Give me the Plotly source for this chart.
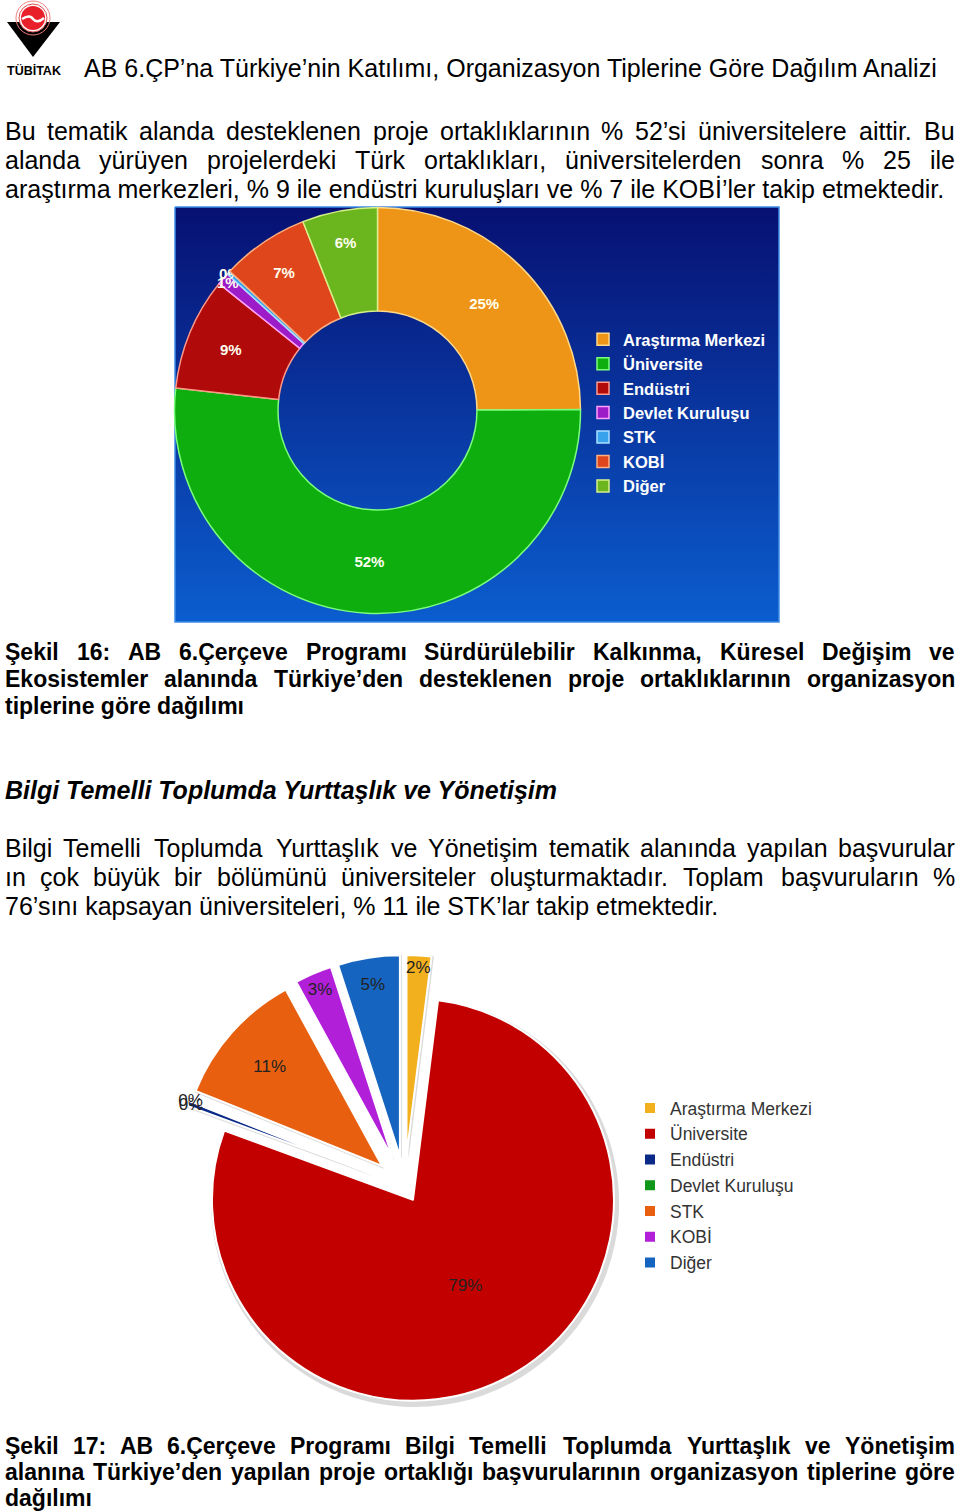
import unicodedata
import plotly.graph_objects as go

# ---------------- data ----------------
categories = ["Araştırma Merkezi", "Üniversite", "Endüstri", "Devlet Kuruluşu", "STK", "KOBİ", "Diğer"]

# Figure 16 (donut): shares in %
fig16_values = [25, 52, 9, 1, 0.3, 7, 6]
fig16_colors = ["#EE9416", "#0DAE0D", "#B00A0A", "#9C1CC8", "#38A2EC", "#E0461C", "#6BB51E"]
fig16_edges = ["#FFD98A", "#7CFF7C", "#FF9A8A", "#FFA0FF", "#A8E0FF", "#FFB080", "#D8F08A"]

# Figure 17 (exploded pie): shares in %
fig17_values = [2, 79, 0.4, 0.1, 11, 3, 5]
fig17_colors = ["#F2B01E", "#C20000", "#0B2A88", "#109618", "#E8600F", "#B11FD9", "#1565C0"]
fig17_pull = [0.15, 0.08, 0.15, 0.15, 0.15, 0.15, 0.15]

FONT = "Liberation Sans, Arial, sans-serif"
W, H = 960, 1512

title_text = "AB 6.ÇP’na Türkiye’nin Katılımı, Organizasyon Tiplerine Göre Dağılım Analizi"
para1 = [
    "Bu tematik alanda desteklenen proje ortaklıklarının % 52’si üniversitelere aittir.  Bu",
    "alanda yürüyen projelerdeki Türk ortaklıkları, üniversitelerden sonra % 25 ile",
    "araştırma merkezleri, % 9 ile endüstri kuruluşları ve % 7 ile KOBİ’ler takip etmektedir.",
]
caption16 = [
    "Şekil 16: AB 6.Çerçeve Programı Sürdürülebilir Kalkınma, Küresel Değişim ve",
    "Ekosistemler alanında Türkiye’den desteklenen proje ortaklıklarının organizasyon",
    "tiplerine göre dağılımı",
]
heading2 = "Bilgi Temelli Toplumda Yurttaşlık ve Yönetişim"
para2 = [
    "Bilgi Temelli Toplumda Yurttaşlık ve Yönetişim  tematik alanında yapılan başvurular",
    "ın çok büyük bir bölümünü üniversiteler oluşturmaktadır. Toplam başvuruların %",
    "76’sını kapsayan üniversiteleri, % 11 ile STK’lar takip etmektedir.",
]
caption17 = [
    "Şekil 17: AB 6.Çerçeve Programı Bilgi Temelli Toplumda Yurttaşlık ve Yönetişim",
    "alanına Türkiye’den yapılan proje ortaklığı başvurularının organizasyon tiplerine göre",
    "dağılımı",
]

# ---------- Arial / Liberation Sans advance widths (per 1000 em) for justification ----------
_up_r = dict(zip("ABCDEFGHIJKLMNOPQRSTUVWXYZ",
                 [667, 667, 722, 722, 667, 611, 778, 722, 278, 500, 667, 556, 833, 722, 778, 667, 778, 722,
                  667, 611, 722, 667, 944, 667, 667, 611]))
_lo_r = dict(zip("abcdefghijklmnopqrstuvwxyz",
                 [556, 556, 500, 556, 556, 278, 556, 556, 222, 222, 500, 222, 833, 556, 556, 556, 556, 333,
                  500, 278, 556, 500, 722, 500, 500, 500]))
_up_b = dict(zip("ABCDEFGHIJKLMNOPQRSTUVWXYZ",
                 [722, 722, 722, 722, 667, 611, 778, 722, 278, 556, 722, 611, 833, 722, 778, 667, 778, 722,
                  667, 611, 722, 667, 944, 667, 667, 611]))
_lo_b = dict(zip("abcdefghijklmnopqrstuvwxyz",
                 [556, 611, 556, 611, 556, 333, 611, 611, 278, 278, 556, 278, 889, 611, 611, 611, 611, 389,
                  556, 333, 611, 556, 778, 556, 556, 500]))
_punct_r = {" ": 278, "%": 889, "’": 222, ",": 278, ".": 278, ":": 278, "ı": 278}
_punct_b = {" ": 278, "%": 889, "’": 278, ",": 278, ".": 278, ":": 333, "ı": 278}


def text_width(s, size, bold):
    up, lo, pu = (_up_b, _lo_b, _punct_b) if bold else (_up_r, _lo_r, _punct_r)
    total = 0
    for ch in s:
        if ch in pu:
            total += pu[ch]
            continue
        base = unicodedata.normalize("NFD", ch)[0]
        if base.isdigit():
            total += 556
        elif base in up:
            total += up[base]
        elif base in lo:
            total += lo[base]
        else:
            total += 556
    return total / 1000 * size


fig = go.Figure()

# gradient background panel of figure 16
fig.add_trace(go.Scatter(
    x=[175, 779, 779, 175, 175], y=[207, 207, 622, 622, 207],
    mode="lines", line=dict(color="#3E8CE8", width=1.5),
    fill="toself",
    fillgradient=dict(type="vertical", colorscale=[[0, "#071072"], [1, "#0B5DCF"]], start=207, stop=622),
    hoverinfo="skip", showlegend=False,
))


def px_domain(cx, cy, half):
    return dict(x=[(cx - half) / W, (cx + half) / W], y=[1 - (cy + half) / H, 1 - (cy - half) / H])


fig.add_trace(go.Pie(
    labels=categories, values=fig16_values, sort=False, direction="clockwise", rotation=0,
    hole=0.49, domain=px_domain(377.5, 410.5, 203),
    marker=dict(colors=fig16_colors, line=dict(color=fig16_edges, width=1.5)),
    texttemplate="%{percent:.0%}", textposition="inside", insidetextorientation="horizontal",
    textfont=dict(family=FONT, size=15, color="#FFFFF0", weight="bold"),
    legend="legend", hoverinfo="label+percent",
))

# soft grey drop shadow under the exploded pie
fig.add_trace(go.Pie(
    labels=[c + "  " for c in categories], values=fig17_values, sort=False, direction="clockwise",
    rotation=0, pull=fig17_pull, domain=px_domain(406.6, 1189, 204 * 1.15),
    marker=dict(colors=["#DADADA"] * len(categories), line=dict(width=0)),
    textinfo="none", hoverinfo="skip", showlegend=False,
))

fig.add_trace(go.Pie(
    labels=[c + " " for c in categories], values=fig17_values, sort=False, direction="clockwise", rotation=0,
    pull=fig17_pull, domain=px_domain(404.6, 1186, 201 * 1.15),
    marker=dict(colors=fig17_colors, line=dict(color="#FFFFFF", width=2)),
    texttemplate="%{percent:.0%}", textposition="inside", insidetextorientation="horizontal",
    textfont=dict(family=FONT, size=17, color="#222222"),
    legend="legend2", hoverinfo="label+percent",
))

ann = []
LEFT, RIGHT, PAD = 5, 955, 2


def style(t, bold, italic):
    if bold:
        t = "<b>" + t + "</b>"
    if italic:
        t = "<i>" + t + "</i>"
    return t


def add_text(text, x, y, size, bold=False, italic=False, color="#000000"):
    ann.append(dict(text=style(text, bold, italic), x=x - PAD, y=y, xref="x", yref="y",
                    xanchor="left", yanchor="middle", showarrow=False,
                    font=dict(family=FONT, size=size, color=color)))


def add_paragraph(lines, y0, dy, size, bold=False):
    for i, line in enumerate(lines):
        y = y0 + dy * i
        if i == len(lines) - 1:
            add_text(line, LEFT, y, size, bold)
            continue
        words = line.split()
        widths = [text_width(w, size, bold) for w in words]
        gap = (RIGHT - LEFT - sum(widths)) / (len(words) - 1)
        x = LEFT
        for w, wd in zip(words, widths):
            add_text(w, x, y, size, bold)
            x += wd + gap


add_text(title_text, 84, 68, 25)
add_paragraph(para1, 131, 29, 25)
add_paragraph(caption16, 652, 27, 23, bold=True)
add_text(heading2, LEFT, 790, 25, bold=True, italic=True)
add_paragraph(para2, 848, 29, 25)
add_paragraph(caption17, 1446, 26, 23, bold=True)

ann.append(dict(text="<b>TÜBİTAK</b>", x=34, y=70, xref="x", yref="y", xanchor="center",
                yanchor="middle", showarrow=False, font=dict(family=FONT, size=12.5, color="#000")))

shapes = [
    # logo: V triangle + red disc with rings
    dict(type="path", path="M 7,22 L 60,22 L 33,57 Z", xref="x", yref="y",
         fillcolor="#000000", line=dict(width=0), layer="above"),
    dict(type="circle", x0=16, x1=50, y0=1, y1=35, xref="x", yref="y",
         line=dict(color="#F08080", width=1), fillcolor="rgba(0,0,0,0)", layer="above"),
    dict(type="circle", x0=19, x1=47, y0=4, y1=32, xref="x", yref="y",
         line=dict(color="#E05050", width=1), fillcolor="#FFFFFF", layer="above"),
    dict(type="circle", x0=21, x1=45, y0=6, y1=30, xref="x", yref="y",
         line=dict(width=0), fillcolor="#E8202A", layer="above"),
    dict(type="path", path="M 22,19 Q 30,14 33,19 Q 37,24 44,18", xref="x", yref="y",
         line=dict(color="#FFFFFF", width=2.5), layer="above"),
]

fig.update_layout(
    width=W, height=H, margin=dict(l=0, r=0, t=0, b=0),
    paper_bgcolor="#FFFFFF", plot_bgcolor="rgba(0,0,0,0)",
    xaxis=dict(range=[0, W], visible=False, fixedrange=True),
    yaxis=dict(range=[H, 0], visible=False, fixedrange=True),
    annotations=ann, shapes=shapes,
    uniformtext=dict(minsize=15, mode="show"),
    legend=dict(x=583 / W, y=1 - 322 / H, xanchor="left", yanchor="top",
                bgcolor="rgba(0,0,0,0)", font=dict(family=FONT, size=16.5, color="#FFFFFF", weight="bold")),
    legend2=dict(x=630 / W, y=1 - 1090 / H, xanchor="left", yanchor="top",
                 bgcolor="rgba(0,0,0,0)", font=dict(family=FONT, size=17.5, color="#333333")),
)

fig.write_html("out.html")
